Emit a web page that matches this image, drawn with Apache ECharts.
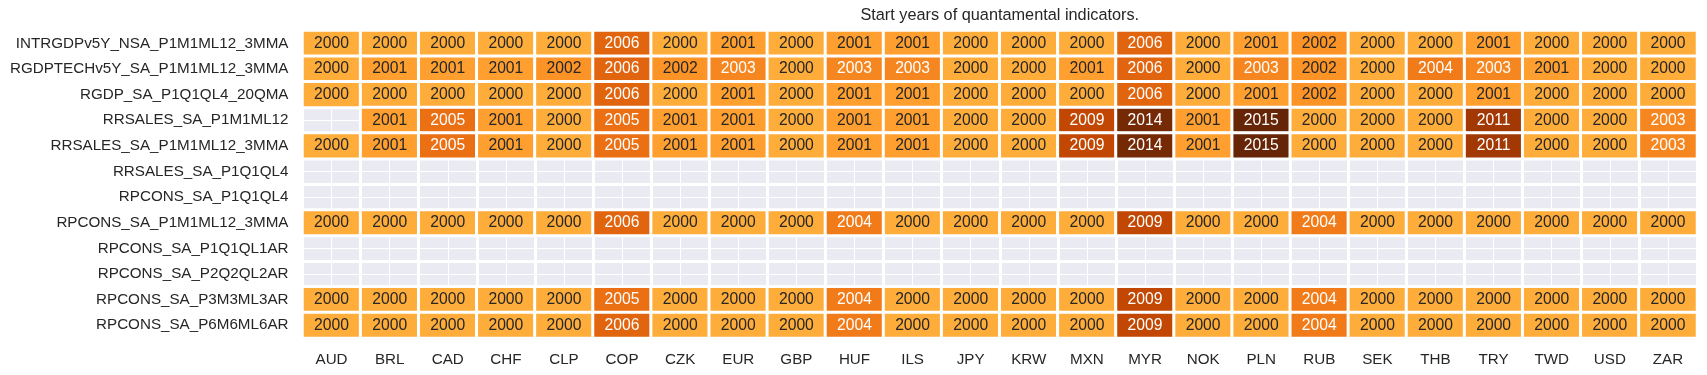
<!DOCTYPE html>
<html>
<head>
<meta charset="utf-8">
<script src="https://cdn.jsdelivr.net/npm/echarts@6/dist/echarts.min.js"></script>
<style>
html,body{margin:0;padding:0;background:#fff;}
#chart{width:1707px;height:375px;}
</style>
</head>
<body>
<div id="chart"></div>
<script>
const title = 'Start years of quantamental indicators.';
const currencies = ['AUD','BRL','CAD','CHF','CLP','COP','CZK','EUR','GBP','HUF','ILS','JPY','KRW','MXN','MYR','NOK','PLN','RUB','SEK','THB','TRY','TWD','USD','ZAR'];
const indicators = ['INTRGDPv5Y_NSA_P1M1ML12_3MMA','RGDPTECHv5Y_SA_P1M1ML12_3MMA','RGDP_SA_P1Q1QL4_20QMA','RRSALES_SA_P1M1ML12','RRSALES_SA_P1M1ML12_3MMA','RRSALES_SA_P1Q1QL4','RPCONS_SA_P1Q1QL4','RPCONS_SA_P1M1ML12_3MMA','RPCONS_SA_P1Q1QL1AR','RPCONS_SA_P2Q2QL2AR','RPCONS_SA_P3M3ML3AR','RPCONS_SA_P6M6ML6AR'];

const INTRGDPv5Y_NSA_P1M1ML12_3MMA = [2000,2000,2000,2000,2000,2006,2000,2001,2000,2001,2001,2000,2000,2000,2006,2000,2001,2002,2000,2000,2001,2000,2000,2000];
const RGDPTECHv5Y_SA_P1M1ML12_3MMA = [2000,2001,2001,2001,2002,2006,2002,2003,2000,2003,2003,2000,2000,2001,2006,2000,2003,2002,2000,2004,2003,2001,2000,2000];
const RGDP_SA_P1Q1QL4_20QMA = [2000,2000,2000,2000,2000,2006,2000,2001,2000,2001,2001,2000,2000,2000,2006,2000,2001,2002,2000,2000,2001,2000,2000,2000];
const RRSALES_SA_P1M1ML12 = [null,2001,2005,2001,2000,2005,2001,2001,2000,2001,2001,2000,2000,2009,2014,2001,2015,2000,2000,2000,2011,2000,2000,2003];
const RRSALES_SA_P1M1ML12_3MMA = [2000,2001,2005,2001,2000,2005,2001,2001,2000,2001,2001,2000,2000,2009,2014,2001,2015,2000,2000,2000,2011,2000,2000,2003];
const RRSALES_SA_P1Q1QL4 = [];
const RPCONS_SA_P1Q1QL4 = [];
const RPCONS_SA_P1M1ML12_3MMA = [2000,2000,2000,2000,2000,2006,2000,2000,2000,2004,2000,2000,2000,2000,2009,2000,2000,2004,2000,2000,2000,2000,2000,2000];
const RPCONS_SA_P1Q1QL1AR = [];
const RPCONS_SA_P2Q2QL2AR = [];
const RPCONS_SA_P3M3ML3AR = [2000,2000,2000,2000,2000,2005,2000,2000,2000,2004,2000,2000,2000,2000,2009,2000,2000,2004,2000,2000,2000,2000,2000,2000];
const RPCONS_SA_P6M6ML6AR = [2000,2000,2000,2000,2000,2006,2000,2000,2000,2004,2000,2000,2000,2000,2009,2000,2000,2004,2000,2000,2000,2000,2000,2000];

const rows = [INTRGDPv5Y_NSA_P1M1ML12_3MMA, RGDPTECHv5Y_SA_P1M1ML12_3MMA, RGDP_SA_P1Q1QL4_20QMA, RRSALES_SA_P1M1ML12, RRSALES_SA_P1M1ML12_3MMA, RRSALES_SA_P1Q1QL4, RPCONS_SA_P1Q1QL4, RPCONS_SA_P1M1ML12_3MMA, RPCONS_SA_P1Q1QL1AR, RPCONS_SA_P2Q2QL2AR, RPCONS_SA_P3M3ML3AR, RPCONS_SA_P6M6ML6AR];

const FONT = '"Liberation Sans", Arial, sans-serif';
const data = [];
rows.forEach((r, yi) => {
  r.forEach((v, xi) => {
    if (v === null || v === undefined) return;
    data.push({
      value: [xi, yi, v],
      label: { color: v >= 2003 ? '#ffffff' : '#262626' }
    });
  });
});

const chart = echarts.init(document.getElementById('chart'), null, {renderer: 'canvas'});
chart.setOption({
  animation: false,
  backgroundColor: '#ffffff',
  title: {
    text: title,
    left: 999.75, top: 8, padding: 0, textAlign: 'center',
    textStyle: { fontFamily: FONT, fontSize: 16.3, fontWeight: 'normal', color: '#262626' }
  },
  grid: {
    left: 302.5, right: 10, top: 30.5, bottom: 37,
    show: true, backgroundColor: '#eaeaf2', borderWidth: 0
  },
  xAxis: [
    {
      type: 'category', data: currencies, position: 'bottom',
      axisLine: {show: false}, axisTick: {show: false},
      axisLabel: { fontFamily: FONT, fontSize: 15.2, color: '#262626', margin: 14 },
      splitLine: { show: true, lineStyle: { color: '#ffffff', width: 3 } }
    },
    {
      type: 'value', min: 0, max: 24, interval: 0.5, show: true,
      axisLine: {show: false}, axisTick: {show: false}, axisLabel: {show: false},
      splitLine: { show: true, lineStyle: { color: '#ffffff', width: 1 } }
    }
  ],
  yAxis: [
    {
      type: 'category', data: indicators, inverse: true,
      axisLine: {show: false}, axisTick: {show: false},
      axisLabel: { fontFamily: FONT, fontSize: 15.2, color: '#262626', margin: 14 },
      splitLine: { show: true, lineStyle: { color: '#ffffff', width: 3 } }
    },
    {
      type: 'value', min: 0, max: 12, interval: 0.5, show: true,
      axisLine: {show: false}, axisTick: {show: false}, axisLabel: {show: false},
      splitLine: { show: true, lineStyle: { color: '#ffffff', width: 1 } }
    }
  ],
  visualMap: {
    show: false, type: 'continuous', min: 1988, max: 2015, dimension: 2,
    inRange: { color: ['#ffffe5','#fff7bc','#fee391','#fec44f','#fe9929','#ec7014','#cc4c02','#993404','#662506'] }
  },
  series: [{
    type: 'heatmap',
    xAxisIndex: 0, yAxisIndex: 0,
    data: data,
    label: { show: true, fontFamily: FONT, fontSize: 15.7, formatter: p => String(p.value[2]) },
    itemStyle: { borderColor: '#ffffff', borderWidth: 3 },
    emphasis: { disabled: true }
  }]
});
</script>
</body>
</html>
